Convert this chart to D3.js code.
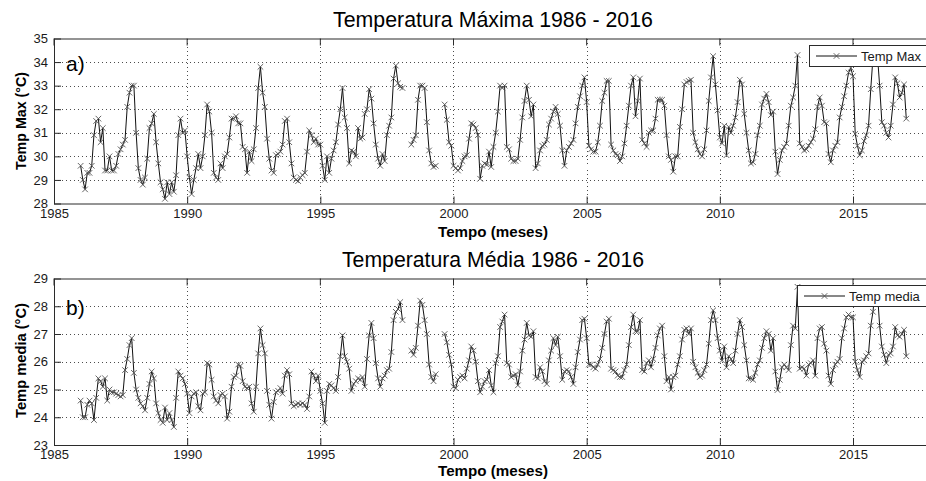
<!DOCTYPE html>
<html><head><meta charset="utf-8">
<script src="https://cdn.jsdelivr.net/npm/d3@7"></script>
<style>
html,body{margin:0;padding:0;background:#fff;}
svg{display:block;font-family:"Liberation Sans",Arial,Helvetica,sans-serif;}
</style>
</head><body>
<svg id="chart" width="926" height="481"></svg>
<script>
// ---------------- data (monthly, Jan 1986 ... Jan 2017; null = missing) ----------------
const startYear = 1986;
const xTicks = [1985, 1990, 1995, 2000, 2005, 2010, 2015];
const yTicksMax = [28, 29, 30, 31, 32, 33, 34, 35];
const yTicksMedia = [23, 24, 25, 26, 27, 28, 29];

const tempMax = [
  29.6, 29.0, 28.6, 29.3, 29.3, 29.6, 30.9, 31.5, 31.6, 30.6, 31.2, 29.4,      // 1986
  29.4, 30.0, 29.4, 29.4, 29.6, 30.1, 30.3, 30.5, 30.7, 32.1, 32.7, 33.0,      // 1987
  33.0, 31.0, 29.5, 29.0, 28.8, 29.1, 29.9, 31.2, 31.4, 31.8, 30.6, 29.7,      // 1988
  28.9, 28.6, 28.2, 28.9, 28.4, 28.9, 28.5, 29.2, 30.9, 31.6, 31.0, 31.1,      // 1989
  30.0, 29.1, 28.4, 29.0, 29.5, 30.1, 29.5, 30.0, 30.9, 32.2, 31.9, 31.0,      // 1990
  29.3, 29.1, 29.0, 29.7, 29.5, 30.0, 30.1, 30.8, 31.6, 31.6, 31.7, 31.4,      // 1991
  31.4, 30.4, 30.3, 29.3, 30.2, 29.8, 30.3, 31.2, 32.9, 33.8, 32.7, 32.1,      // 1992
  30.75, 29.9, 29.4, 29.3, 30.05, 30.1, 30.2, 30.5, 31.5, 31.6, 30.6, 29.7,    // 1993
  29.1, 29.0, 28.95, 29.1, 29.2, 29.3, 30.2, 31.1, 30.9, 30.6, 30.75, 30.5,    // 1994
  30.5, 29.6, 29.0, 30.0, 29.3, 29.9, 30.25, 30.6, 31.35, 32.0, 32.9, 31.65,   // 1995
  31.2, 29.7, 30.25, 30.2, 30.0, 31.2, 30.75, 30.8, 31.8, 32.0, 32.85, 32.45,  // 1996
  31.4, 30.5, 29.9, 29.6, 30.1, 29.8, 30.9, 31.3, 31.65, 33.3, 33.85, 33.1,    // 1997
  32.95, 32.9, null, null, null, 30.5, 30.7, 30.9, 32.4, 33.0, 33.0, 32.9,     // 1998
  31.45, 30.25, 29.7, 29.55, 29.6, null, null, null, 32.2, 31.55, 30.6, 30.45, // 1999
  29.6, 29.5, 29.4, 29.5, 29.8, 30.0, 30.05, 30.75, 31.4, 31.35, 31.2, 30.9,   // 2000
  29.05, 29.6, 29.7, 29.65, 30.2, 29.55, 30.4, 31.0, 31.9, 33.0, 32.9, 33.0,   // 2001
  30.4, 30.3, 29.9, 29.8, 29.8, 29.9, 30.7, 31.65, 32.35, 33.0, 32.4, 31.7,    // 2002
  32.2, 29.5, 29.7, 30.25, 30.45, 30.5, 30.7, 31.35, 31.6, 31.9, 32.1, 31.8,   // 2003
  31.3, 30.25, 29.6, 30.25, 30.4, 30.55, 30.7, 31.4, 32.1, 32.55, 33.0, 33.35, // 2004
  32.3, 30.45, 30.3, 30.2, 30.2, 30.6, 31.3, 32.35, 32.7, 33.2, 33.2, 30.5,    // 2005
  30.25, 30.1, 30.05, 29.8, 30.0, 30.55, 31.3, 32.15, 33.0, 33.35, 31.7, 32.35,// 2006
  33.3, 30.7, 30.55, 30.4, 31.0, 31.1, 31.1, 31.6, 32.4, 32.4, 32.4, 32.15,    // 2007
  30.9, 30.0, 29.85, 29.35, 30.0, 30.0, 31.25, 32.0, 33.05, 33.15, 33.2, 33.25,// 2008
  31.0, 30.6, 30.3, 30.1, 30.0, 30.3, 31.1, 32.35, 33.35, 34.25, 33.05, 31.95, // 2009
  30.8, 30.55, 31.3, 30.05, 31.25, 31.0, 31.3, 31.65, 32.3, 33.25, 33.05, 31.8,// 2010
  31.0, 30.25, 29.7, 29.75, 30.1, 30.9, 31.3, 32.2, 32.45, 32.65, 32.3, 31.75, // 2011
  31.9, 30.2, 29.25, 29.85, 30.25, 30.4, 30.55, 31.3, 32.15, 32.5, 33.0, 34.3, // 2012
  30.55, 30.4, 30.25, 30.3, 30.45, 30.6, 30.75, 31.15, 32.1, 32.5, 32.15, 31.45,// 2013
  31.4, 30.1, 29.75, 30.25, 30.45, 30.6, 31.65, 32.1, 32.55, 33.0, 33.55, 33.75,// 2014
  33.4, 30.95, 30.45, 30.05, 30.25, 30.65, 30.9, 31.3, 32.85, 34.2, 34.4, 34.3,// 2015
  33.0, 31.45, 31.3, 31.0, 30.8, 31.3, 32.2, 33.35, 33.1, 32.5, 32.7, 33.05,   // 2016
  31.6                                                                         // 2017
];

const tempMedia = [
  24.6, 24.0, 24.0, 24.45, 24.6, 24.5, 23.9, 24.7, 25.4, 25.3, 25.1, 25.4,     // 1986
  24.6, 25.0, 24.9, 24.9, 24.85, 24.8, 24.75, 24.8, 25.7, 26.1, 26.6, 26.85,   // 1987
  25.6, 25.0, 24.7, 24.5, 24.4, 24.25, 24.7, 25.2, 25.65, 25.4, 24.5, 24.15,   // 1988
  23.9, 23.8, 24.35, 23.9, 24.15, 23.9, 23.65, 24.7, 25.65, 25.5, 25.4, 25.2,  // 1989
  24.85, 24.15, 24.75, 24.85, 24.9, 24.4, 24.25, 24.85, 24.9, 25.95, 25.9, 25.35, // 1990
  24.75, 24.6, 24.5, 24.8, 24.85, 24.75, 23.95, 24.2, 25.1, 25.45, 25.5, 25.9, // 1991
  25.85, 25.3, 25.1, 25.05, 25.1, 24.5, 24.2, 25.1, 26.3, 27.2, 26.6, 26.3,    // 1992
  24.95, 24.45, 23.95, 24.55, 24.9, 24.95, 25.05, 24.85, 25.5, 25.7, 25.55, 24.5, // 1993
  24.4, 24.45, 24.5, 24.45, 24.5, 24.45, 24.3, 24.75, 25.65, 25.5, 25.3, 25.5, // 1994
  24.95, 24.5, 23.8, 24.95, 25.2, 25.15, 25.05, 24.95, 25.45, 26.2, 26.95, 26.2, // 1995
  26.0, 25.75, 24.95, 25.2, 25.3, 25.4, 25.35, 25.45, 25.1, 26.1, 26.95, 27.4, // 1996
  26.85, 25.95, 25.4, 25.1, 25.4, 25.5, 25.7, 25.75, 26.35, 27.5, 27.8, 27.9,  // 1997
  28.15, 27.5, null, null, null, 26.4, 26.25, 26.5, 27.3, 28.2, 28.05, 27.5,   // 1998
  27.0, 25.9, 25.45, 25.3, 25.55, null, null, null, 27.0, 26.7, 26.25, 25.9,   // 1999
  25.1, 25.05, 25.35, 25.45, 25.5, 25.4, 25.75, 26.05, 26.55, 26.4, 26.0, 25.3, // 2000
  24.9, 25.1, 25.3, 25.35, 25.7, 25.15, 24.9, 25.95, 26.2, 27.25, 27.45, 27.7, // 2001
  25.95, 25.9, 25.45, 25.5, 25.55, 25.15, 25.65, 26.4, 26.8, 27.4, 26.95, 26.9, // 2002
  27.1, 25.45, 25.4, 25.8, 25.65, 25.3, 25.2, 26.05, 26.4, 26.85, 26.6, 26.9,  // 2003
  26.2, 25.35, 25.65, 25.7, 25.65, 25.45, 25.2, 25.8, 26.35, 26.8, 27.5, 27.55, // 2004
  26.85, 25.9, 25.9, 25.8, 25.75, 25.9, 26.1, 26.5, 27.0, 27.45, 27.55, 25.75, // 2005
  25.7, 25.65, 25.5, 25.45, 25.45, 25.7, 25.9, 26.6, 27.25, 27.7, 27.1, 27.1,  // 2006
  27.5, 25.7, 25.65, 25.95, 26.05, 25.8, 26.1, 26.5, 26.95, 27.2, 27.3, 26.2,  // 2007
  25.3, 25.45, 25.0, 25.45, 25.5, 25.9, 26.2, 26.8, 27.15, 27.2, 27.0, 27.2,   // 2008
  26.0, 25.8, 25.6, 25.45, 25.5, 25.7, 25.9, 26.65, 27.5, 27.85, 27.5, 26.85,  // 2009
  26.4, 26.05, 26.55, 25.8, 26.2, 26.1, 25.95, 26.4, 27.0, 27.5, 27.25, 26.6,  // 2010
  26.05, 25.4, 25.4, 25.35, 25.6, 25.9, 26.05, 26.5, 26.85, 27.1, 27.0, 26.4,  // 2011
  26.85, 25.65, 24.98, 25.35, 25.8, 25.9, 25.8, 25.7, 26.6, 27.3, 27.2, 28.7,  // 2012
  25.75, 25.8, 25.75, 25.5, 25.9, 25.95, 26.05, 25.5, 26.85, 27.2, 27.25, 26.65, // 2013
  26.4, 25.5, 25.2, 25.7, 25.9, 26.0, 26.1, 26.85, 27.2, 27.6, 27.7, 27.6,     // 2014
  27.6, 26.0, 25.7, 25.45, 26.0, 26.05, 26.2, 26.3, 27.3, 27.8, 28.6, 28.5,    // 2015
  27.3, 26.55, 26.25, 25.95, 26.25, 26.3, 26.55, 27.25, 26.95, 26.9, 27.0, 27.15, // 2016
  26.2                                                                         // 2017
];

// ---------------- drawing ----------------
const svg = d3.select("#chart");
svg.append("rect").attr("width", 926).attr("height", 481).attr("fill", "#fff");

const x = d3.scaleLinear().domain([1985, 2018]).range([54, 932.9]);
const axisColor = "#2b2b2b";
const markerPath = "M-2.8,-2.8L2.8,2.8M-2.8,2.8L2.8,-2.8";

// size a text so its rendered width matches the width it has in the reference
function fitText(sel, width) {
  sel.attr("font-size", 100);
  const w = sel.node().getComputedTextLength();
  sel.attr("font-size", (100 * width / w).toFixed(2));
}

const panels = [
  { id: "a", values: tempMax, ticks: yTicksMax, domain: [28, 35], range: [203.5, 38.5],
    title: "Temperatura Máxima 1986 - 2016", titleY: 26.5, titleW: 320,
    ylabel: "Temp Max (°C)", ylabelW: 98, ylabelC: 121,
    tag: "a)", tagY: 71, xlabelY: 237, legend: "Temp Max",
    legendBox: [809, 45, 130, 21] },
  { id: "b", values: tempMedia, ticks: yTicksMedia, domain: [23, 29], range: [445, 278.5],
    title: "Temperatura Média 1986 - 2016", titleY: 266.5, titleW: 302,
    ylabel: "Temp media (°C)", ylabelW: 115, ylabelC: 360.5,
    tag: "b)", tagY: 315, xlabelY: 475.5, legend: "Temp media",
    legendBox: [797, 285, 140, 21] }
];

panels.forEach(p => {
  const y = d3.scaleLinear().domain(p.domain).range(p.range);
  const top = p.range[1], bottom = p.range[0];
  const left = x.range()[0], right = x.range()[1];
  const g = svg.append("g");

  const clipId = "clip-" + p.id;
  svg.append("clipPath").attr("id", clipId)
    .append("rect").attr("x", left).attr("y", top - 1)
    .attr("width", right - left).attr("height", bottom - top + 2);

  // grid
  const grid = g.append("g").attr("stroke", "#4d4d4d").attr("stroke-width", 1)
    .attr("stroke-dasharray", "1,3").attr("shape-rendering", "crispEdges");
  grid.selectAll("line.h").data(p.ticks.filter(t => t > p.domain[0] && t < p.domain[1]))
    .join("line").attr("class", "h")
    .attr("x1", left).attr("x2", right)
    .attr("y1", d => Math.round(y(d)) + 0.5).attr("y2", d => Math.round(y(d)) + 0.5);
  grid.selectAll("line.v").data(xTicks.filter(t => t > 1985))
    .join("line").attr("class", "v")
    .attr("y1", top).attr("y2", bottom)
    .attr("x1", d => Math.round(x(d)) + 0.5).attr("x2", d => Math.round(x(d)) + 0.5);

  // data
  const data = p.values.map((v, i) => ({ t: startYear + i / 12, v }));
  const plot = g.append("g").attr("clip-path", `url(#${clipId})`);
  const line = d3.line().defined(d => d.v != null).x(d => x(d.t)).y(d => y(d.v));
  plot.append("path").datum(data).attr("d", line)
    .attr("fill", "none").attr("stroke", "#111").attr("stroke-width", 1);
  plot.selectAll("path.m").data(data.filter(d => d.v != null)).join("path")
    .attr("class", "m").attr("d", markerPath)
    .attr("transform", d => `translate(${x(d.t)},${y(d.v)})`)
    .attr("fill", "none").attr("stroke", "#555").attr("stroke-width", 0.9);

  // axes (inward ticks)
  const ya = g.append("g").attr("transform", `translate(${left},0)`)
    .call(d3.axisLeft(y).tickValues(p.ticks).tickSize(-7).tickPadding(6).tickFormat(d3.format("d")));
  ya.select(".domain").remove();
  ya.selectAll("line").attr("stroke", axisColor);
  ya.selectAll("text").attr("font-size", 13).attr("fill", "#1a1a1a")
    .attr("font-family", "Liberation Sans, Arial, sans-serif");

  const xa = g.append("g").attr("transform", `translate(0,${bottom})`)
    .call(d3.axisBottom(x).tickValues(xTicks).tickSize(-7).tickPadding(5).tickFormat(d3.format("d")));
  xa.select(".domain").remove();
  xa.selectAll("line").attr("stroke", axisColor);
  xa.selectAll("text").attr("font-size", 13).attr("fill", "#1a1a1a")
    .attr("font-family", "Liberation Sans, Arial, sans-serif");
  // top ticks
  g.append("g").selectAll("line").data(xTicks).join("line")
    .attr("x1", d => x(d)).attr("x2", d => x(d)).attr("y1", top).attr("y2", top + 7)
    .attr("stroke", axisColor);

  // frame
  g.append("rect").attr("x", left + 0.5).attr("y", top + 0.5)
    .attr("width", right - left).attr("height", bottom - top)
    .attr("fill", "none").attr("stroke", axisColor).attr("stroke-width", 1);

  // panel tag
  g.append("text").attr("x", 66).attr("y", p.tagY).text(p.tag)
    .attr("font-size", 21).attr("fill", "#000");

  // title
  const tt = svg.append("text").attr("x", 493).attr("y", p.titleY).attr("text-anchor", "middle")
    .attr("fill", "#000").text(p.title);
  fitText(tt, p.titleW);

  // y label
  const yl = svg.append("text")
    .attr("text-anchor", "middle").attr("font-weight", "bold")
    .attr("fill", "#000").text(p.ylabel);
  fitText(yl, p.ylabelW);
  const yfs = +yl.attr("font-size");
  yl.attr("transform", `translate(${20.5 + yfs * 0.36},${p.ylabelC}) rotate(-90)`);

  // x label
  const xl = svg.append("text").attr("x", 493).attr("y", p.xlabelY).attr("text-anchor", "middle")
    .attr("font-weight", "bold").attr("fill", "#000").text("Tempo (meses)");
  fitText(xl, 110);

  // legend
  const [lx, ly, lw, lh] = p.legendBox;
  const lg = svg.append("g");
  lg.append("rect").attr("x", lx + 0.5).attr("y", ly + 0.5).attr("width", lw).attr("height", lh)
    .attr("fill", "#fff").attr("stroke", axisColor);
  const cy = ly + lh / 2 + 0.5;
  lg.append("line").attr("x1", lx + 7).attr("x2", lx + 48).attr("y1", cy).attr("y2", cy)
    .attr("stroke", "#111");
  lg.append("path").attr("d", markerPath).attr("transform", `translate(${lx + 27.5},${cy})`)
    .attr("fill", "none").attr("stroke", "#555").attr("stroke-width", 0.9);
  lg.append("text").attr("x", lx + 52).attr("y", cy + 4.5).attr("font-size", 13)
    .attr("fill", "#1a1a1a").text(p.legend);
});
</script>
</body></html>
